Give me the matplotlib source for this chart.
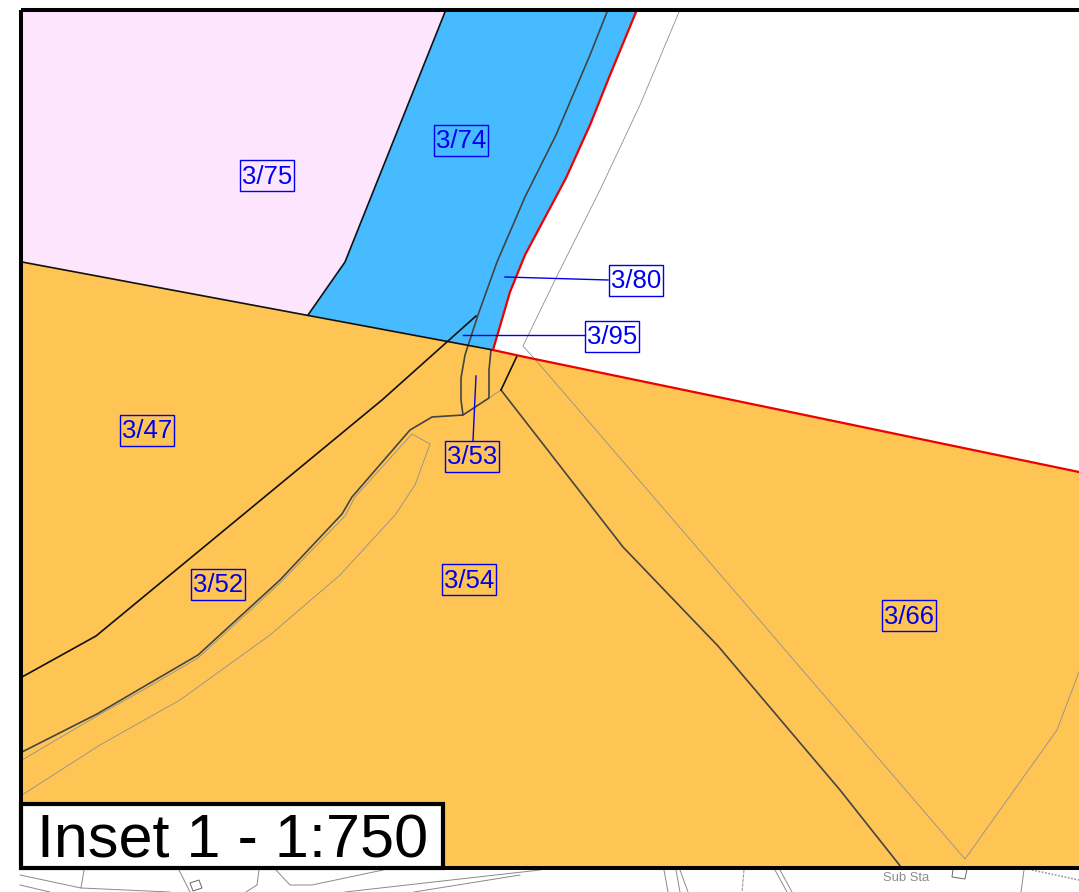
import matplotlib
matplotlib.use("Agg")
import matplotlib.pyplot as plt
from matplotlib.patches import Polygon, Rectangle

plt.rcParams['font.family'] = ['Liberation Sans', 'DejaVu Sans']

ORANGE = '#fec555'
PINK = '#fde6fd'
BLUE = '#46bbff'
LABEL = '#0000ee'

pink_parcel = [(22, 10), (446, 10), (345, 262), (308, 315), (22, 262)]
blue_parcel = [(446, 10), (637, 10), (610, 75), (590, 125), (566, 178), (525, 255),
               (510, 292), (493, 350), (308, 315), (345, 262)]
orange_parcel = [(22, 262), (493, 350), (1079, 472), (1079, 867), (22, 867)]

red_boundary = [(636, 12), (610, 75), (590, 125), (566, 178), (525, 255), (510, 292),
                (493, 350), (525, 357), (800, 414), (1079, 472)]
black_lines = [
    [(22, 262), (493, 350)],
    [(445, 12), (345, 262), (308, 315)],
    [(22, 677), (96, 636), (382, 400), (476, 316)],
    [(517, 356), (501, 390)],
]
dark_grey_lines = [
    [(607, 12), (590, 55), (556, 135), (525, 197), (497, 262), (478, 315), (465, 355),
     (461, 378), (461, 400), (463, 415), (432, 417), (410, 430), (352, 497), (342, 514),
     (280, 580), (198, 655), (150, 683), (97, 714), (22, 752)],
    [(491, 350), (489, 370), (489, 398), (463, 415)],
    [(501, 390), (623, 547), (718, 646), (840, 790), (901, 867)],
]
pale_grey_lines = [
    [(501, 390), (489, 398)],
    [(22, 760), (97, 716), (150, 686), (198, 658), (280, 583), (345, 516), (355, 497), (412, 434), (430, 444),
     (415, 485), (395, 515), (340, 575), (270, 635), (180, 700), (100, 745), (22, 795)],
    [(679, 12), (640, 105), (600, 190), (555, 280), (523, 346), (540, 365),
     (965, 859), (1057, 730), (1079, 672)],
]
base_map_lines = [
    [(20, 875), (81, 888)], [(20, 885), (50, 892)], [(84, 870), (81, 888), (170, 892)],
    [(179, 870), (190, 892)], [(259, 870), (257, 885), (246, 892)], [(276, 870), (290, 885), (312, 885), (383, 870)],
    [(345, 892), (540, 870)], [(414, 892), (520, 875)],
    [(664, 870), (668, 892)], [(676, 870), (680, 892)], [(680, 870), (688, 892)],
    [(775, 870), (787, 892)], [(780, 870), (792, 892)], [(1024, 870), (1021, 892)],
]
base_map_boxes = [
    [(190, 883), (199, 880), (202, 888), (193, 891)],
    [(953, 869), (967, 869), (965, 879), (952, 877)],
]
dashed_base = [(744, 870), (742, 892)]
dotted_base = [(1032, 870), (1079, 880)]

parcel_labels = ['3/75', '3/74', '3/80', '3/95', '3/47', '3/53', '3/52', '3/54', '3/66']
label_x = [267, 461, 636, 612, 147, 472, 218, 469, 909]
label_y = [175, 140, 280, 336, 430, 456, 584, 579, 615]
leader_lines = [
    [(608, 280), (505, 277)],
    [(585, 335), (463, 335)],
    [(473, 441), (476, 376)],
]
inset_title = 'Inset 1 - 1:750'

fig = plt.figure(figsize=(10.79, 8.92), dpi=100)
ax = fig.add_axes([0, 0, 1, 1])
ax.set_xlim(0, 1079)
ax.set_ylim(892, 0)
ax.axis('off')

ax.add_patch(Polygon(orange_parcel, fc=ORANGE, ec='none', zorder=1))
ax.add_patch(Polygon(pink_parcel, fc=PINK, ec='none', zorder=1))
ax.add_patch(Polygon(blue_parcel, fc=BLUE, ec='none', zorder=1))


def draw(pts, **kw):
    ax.plot([p[0] for p in pts], [p[1] for p in pts], solid_joinstyle='round', **kw)


for l in base_map_lines:
    draw(l, color='#8a8a8a', lw=0.7, zorder=1.5)
for b in base_map_boxes:
    ax.add_patch(Polygon(b, fc='white', ec='#666666', lw=0.7, zorder=1.5))
draw(dashed_base, color='#999999', lw=0.8, ls=(0, (3, 1)), zorder=1.5)
draw(dotted_base, color='#999999', lw=1.2, ls=(0, (1, 1)), zorder=1.5)
ax.text(906.5, 878, 'Sub Sta', fontsize=9.4, color='#8c8c8c', ha='center', va='center', zorder=1.5)

for l in pale_grey_lines:
    draw(l, color='#8f8f8f', lw=0.6, zorder=2)
for l in dark_grey_lines:
    draw(l, color='#444444', lw=1.2, zorder=2.2)
for l in black_lines:
    draw(l, color='#111111', lw=1.2, zorder=2.3)
draw(red_boundary, color='#ee0000', lw=1.6, zorder=2.5)
for l in leader_lines:
    draw(l, color=LABEL, lw=1.0, zorder=3)

for t, x, y in zip(parcel_labels, label_x, label_y):
    ax.add_patch(Rectangle((x - 27, y - 15.5), 54, 31, fc='none', ec=LABEL, lw=1.0, zorder=4))
    ax.text(x, y + 1.5, t, fontsize=18.5, color=LABEL, ha='center', va='center', zorder=4)

# map frame
ax.add_patch(Rectangle((21.3, 9.8), 1070, 857.7, fc='none', ec='black', lw=2.9, zorder=5))

# inset title
ax.add_patch(Rectangle((20.5, 803.5), 422, 64, fc='white', ec='black', lw=3, zorder=6))
ax.text(233, 857, inset_title, fontsize=44, color='black', ha='center', va='baseline', zorder=7)

fig.savefig('out.png', dpi=100, facecolor='white')
